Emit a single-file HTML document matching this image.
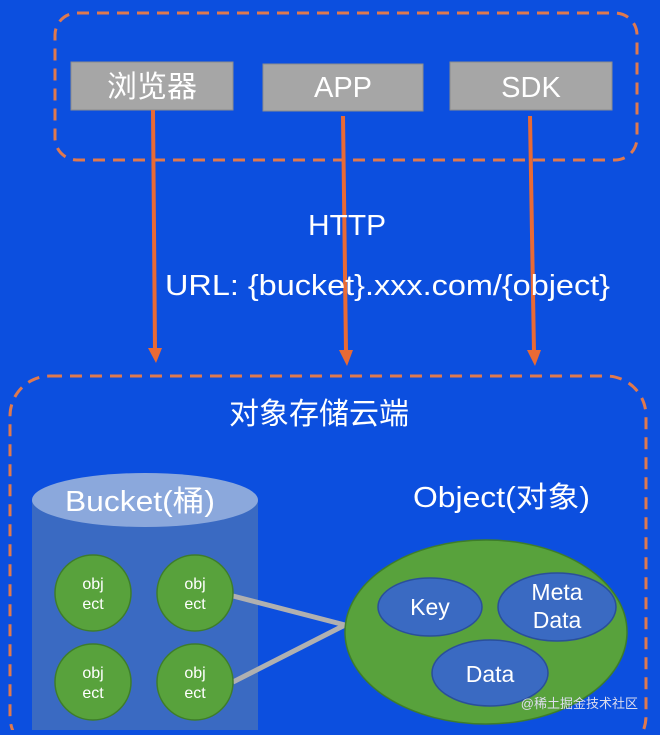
<!DOCTYPE html>
<html><head><meta charset="utf-8"><style>
body{margin:0;width:660px;height:730px;overflow:hidden;background:#0c4fdf;}
svg text{font-family:"Liberation Sans","Noto Sans CJK SC",sans-serif;fill:#fff;}
</style></head><body>
<svg width="660" height="730" viewBox="0 0 660 730">
<rect width="660" height="730" fill="#0c4fdf"/>
<rect x="55" y="13" width="582" height="147" rx="22" fill="none" stroke="#e0794e" stroke-width="3" stroke-dasharray="12,8"/>
<rect x="10" y="376" width="636" height="380" rx="40" fill="none" stroke="#e0794e" stroke-width="3" stroke-dasharray="12,8"/>
<rect x="71" y="62" width="162" height="48" fill="#a6a6a6" stroke="#8c8c8c"/>
<rect x="263" y="64" width="160" height="47" fill="#a6a6a6" stroke="#8c8c8c"/>
<rect x="450" y="62" width="162" height="48" fill="#a6a6a6" stroke="#8c8c8c"/>
<text x="152" y="97" font-size="30" text-anchor="middle">浏览器</text>
<text x="343" y="97" font-size="29" text-anchor="middle">APP</text>
<text x="531" y="97" font-size="29" text-anchor="middle">SDK</text>
<g stroke="#e86a35" stroke-width="4" fill="#e86a35">
<line x1="153" y1="110" x2="155" y2="350"/><polygon points="148,348 162,348 156,363" stroke="none"/>
<line x1="343" y1="116" x2="346" y2="352"/><polygon points="339,350 353,350 347,366" stroke="none"/>
<line x1="530" y1="116" x2="534" y2="352"/><polygon points="527,350 541,350 535,366" stroke="none"/>
</g>
<text x="308" y="235" font-size="29" textLength="78" lengthAdjust="spacingAndGlyphs">HTTP</text>
<text x="165" y="295" font-size="29" textLength="445" lengthAdjust="spacingAndGlyphs">URL: {bucket}.xxx.com/{object}</text>
<text x="319" y="424" font-size="30" text-anchor="middle">对象存储云端</text>
<rect x="32" y="500" width="226" height="240" fill="#3a6ac2"/>
<ellipse cx="145" cy="500" rx="113" ry="27" fill="#8ba8dc"/>
<text x="65" y="511" font-size="29" textLength="150" lengthAdjust="spacingAndGlyphs">Bucket(桶)</text>
<text x="413" y="507" font-size="29" textLength="177" lengthAdjust="spacingAndGlyphs">Object(对象)</text>
<g stroke="#b0b0b0" stroke-width="5"><line x1="233" y1="596" x2="345" y2="625"/><line x1="233" y1="682" x2="345" y2="625"/></g>
<g fill="#58a23c" stroke="#3e7d2a" stroke-width="1.5">
<ellipse cx="93" cy="593" rx="38" ry="38"/><ellipse cx="195" cy="593" rx="38" ry="38"/>
<ellipse cx="93" cy="682" rx="38" ry="38"/><ellipse cx="195" cy="682" rx="38" ry="38"/>
<ellipse cx="486" cy="632" rx="141" ry="92"/>
</g>
<g fill="#3a6ac2" stroke="#2a4f9a" stroke-width="1.5">
<ellipse cx="430" cy="607" rx="52" ry="29"/><ellipse cx="557" cy="607" rx="59" ry="34"/><ellipse cx="490" cy="673" rx="58" ry="33"/>
</g>
<g font-size="16" text-anchor="middle">
<text x="93" y="589">obj</text><text x="93" y="609">ect</text>
<text x="195" y="589">obj</text><text x="195" y="609">ect</text>
<text x="93" y="678">obj</text><text x="93" y="698">ect</text>
<text x="195" y="678">obj</text><text x="195" y="698">ect</text>
</g>
<g font-size="23" text-anchor="middle">
<text x="430" y="615">Key</text>
<text x="557" y="600">Meta</text><text x="557" y="628">Data</text>
<text x="490" y="682">Data</text>
</g>
<text x="638" y="708" font-size="13" text-anchor="end" style="fill:#dde">@稀土掘金技术社区</text>
</svg>
</body></html>
